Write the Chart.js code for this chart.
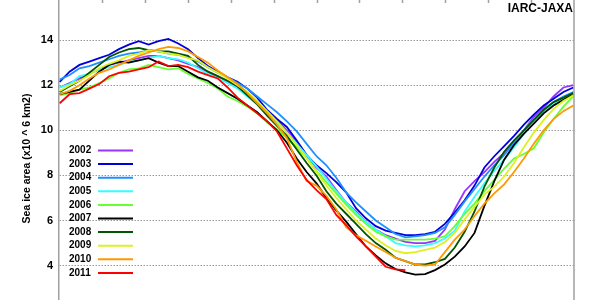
<!DOCTYPE html>
<html>
<head>
<meta charset="utf-8">
<script src="https://cdn.jsdelivr.net/npm/chart.js@4.4.0/dist/chart.umd.min.js"></script>
<style>
  html, body { margin: 0; padding: 0; background: #fff; overflow: hidden; }
  #wrap { position: absolute; left: 0; top: -20px; width: 600px; height: 362px; }
</style>
</head>
<body>
<div id="wrap"><canvas id="chart" width="600" height="362"></canvas></div>
<script>
// day of year for each sample (weekly)
const days = [1,8,15,22,29,36,43,50,57,64,71,78,85,92,99,106,113,120,127,134,141,148,155,162,169,176,183,190,197,204,211,218,225,232,239,246,253,260,267,274,281,288,295,302,309,316,323,330,337,344,351,358,365];

// sea ice area, million km2
const ice2002 = [11.9,12.1,12.3,12.5,12.7,12.9,13.0,13.1,13.2,13.3,13.3,13.2,13.1,12.95,12.8,12.6,12.4,12.15,11.9,11.6,11.2,10.8,10.45,10.0,9.5,8.9,8.35,7.95,7.35,6.8,6.4,5.95,5.6,5.35,5.2,5.05,5.0,5.0,5.1,5.6,6.5,7.3,7.75,8.15,8.6,9.0,9.5,10.0,10.6,11.0,11.5,11.9,12.0];
const ice2003 = [12.15,12.6,12.9,13.05,13.2,13.35,13.6,13.8,13.95,13.8,13.95,14.05,13.85,13.6,13.2,12.85,12.6,12.35,12.15,11.85,11.45,10.9,10.5,10.15,9.55,8.9,8.45,8.1,7.7,7.25,6.55,6.1,5.75,5.55,5.45,5.35,5.35,5.4,5.5,5.85,6.35,6.9,7.55,8.35,8.85,9.3,9.75,10.25,10.7,11.1,11.4,11.7,11.9];
const ice2004 = [12.25,12.45,12.75,12.85,13.0,13.15,13.3,13.4,13.45,13.55,13.5,13.4,13.35,13.25,13.05,12.8,12.55,12.35,12.1,11.85,11.5,11.15,10.8,10.4,9.95,9.4,8.85,8.45,7.9,7.25,6.8,6.4,6.0,5.7,5.4,5.25,5.3,5.35,5.45,5.7,6.25,6.85,7.4,7.95,8.45,8.9,9.45,10.0,10.5,10.9,11.25,11.5,11.7];
const ice2005 = [11.9,12.05,12.4,12.5,12.7,12.8,12.9,13.05,13.1,13.2,13.3,13.2,13.15,13.0,12.75,12.5,12.3,12.1,11.85,11.5,11.15,10.7,10.35,9.9,9.4,8.9,8.4,7.85,7.3,6.8,6.35,5.95,5.6,5.3,5.0,4.9,4.85,4.9,5.0,5.2,5.55,6.4,7.05,7.65,8.2,8.7,9.25,9.85,10.35,10.8,11.15,11.45,11.6];
const ice2006 = [11.55,11.65,11.8,11.9,12.1,12.3,12.55,12.7,12.75,12.9,12.8,12.7,12.75,12.5,12.3,12.1,11.85,11.5,11.3,11.05,10.75,10.35,10.05,9.65,9.25,8.75,8.2,7.7,7.2,6.7,6.25,5.85,5.5,5.3,5.15,5.15,5.15,5.15,5.2,5.3,5.75,6.3,6.75,7.3,7.8,8.3,8.75,8.95,9.2,9.9,10.5,11.05,11.5];
const ice2007 = [11.6,11.7,11.8,12.2,12.6,12.9,13.05,13.0,13.1,13.2,13.0,12.85,12.85,12.6,12.35,12.2,11.9,11.65,11.4,11.1,10.8,10.4,10.0,9.45,8.75,8.15,7.65,7.0,6.45,5.95,5.4,4.85,4.45,4.1,3.85,3.7,3.6,3.62,3.8,4.05,4.4,4.85,5.45,6.65,7.75,8.7,9.35,9.85,10.3,10.75,11.1,11.35,11.6];
const ice2008 = [11.7,11.95,12.2,12.55,12.9,13.25,13.45,13.6,13.65,13.55,13.5,13.5,13.4,13.3,12.9,12.6,12.4,12.2,11.95,11.55,11.15,10.65,10.2,9.75,9.15,8.55,8.0,7.3,6.75,6.3,5.85,5.4,5.0,4.7,4.35,4.2,4.05,4.05,4.15,4.3,4.8,5.5,6.4,7.5,8.35,9.05,9.55,10.0,10.45,10.9,11.25,11.45,11.65];
const ice2009 = [11.75,12.0,12.2,12.45,12.75,12.95,13.1,13.3,13.4,13.55,13.5,13.4,13.35,13.2,13.1,12.8,12.55,12.3,12.0,11.7,11.3,10.85,10.4,9.9,9.35,8.75,8.15,7.55,7.0,6.5,6.0,5.6,5.2,4.9,4.65,4.55,4.6,4.7,4.8,5.05,5.45,6.05,6.6,7.15,7.5,7.95,8.55,9.25,9.9,10.45,10.95,11.3,11.55];
const ice2010 = [11.6,11.75,12.0,12.3,12.55,12.7,12.9,13.1,13.3,13.45,13.6,13.7,13.65,13.5,13.25,13.0,12.65,12.35,12.05,11.65,11.2,10.75,10.25,9.65,8.6,7.75,7.55,7.1,6.5,5.7,5.35,5.1,4.85,4.6,4.35,4.2,4.05,4.0,4.05,4.6,5.15,5.6,6.2,6.75,7.2,7.6,8.15,8.75,9.4,10.0,10.5,10.85,11.1];
const ice2011 = [11.2,11.6,11.65,11.85,12.05,12.4,12.55,12.6,12.7,12.8,13.05,12.85,12.9,12.8,12.6,12.45,12.3,11.9,11.45,11.1,10.75,10.4,9.95,9.2,8.45,7.8,7.35,6.95,6.25,5.8,5.3,4.85,4.4,3.95,3.83,3.8];

const years = ['2002','2003','2004','2005','2006','2007','2008','2009','2010','2011'];
const series = [ice2002, ice2003, ice2004, ice2005, ice2006, ice2007, ice2008, ice2009, ice2010, ice2011];
const colors = ['#9933ff','#0000dd','#1e90ff','#33ffff','#66ff33','#000000','#005500','#ddf020','#ff9900','#ff0000'];

// month boundaries (day of year) for the small tick marks on top
const monthTicks = [30.9, 61.3, 91.75, 122.2, 152.6, 183.0, 213.4, 243.8, 274.25, 304.7, 335.1];
const yTicks = [4, 6, 8, 10, 12, 14, 16];

const FONT = '"Liberation Sans", Arial, Helvetica, sans-serif';

// frame, month ticks, source text and the inset legend
const extras = {
  id: 'extras',
  afterDraw(chart) {
    const { ctx, chartArea: a, scales: { x } } = chart;
    ctx.save();
    ctx.strokeStyle = '#a0a0a0';
    ctx.lineWidth = 1.5;
    ctx.beginPath();
    ctx.moveTo(a.right, a.top); ctx.lineTo(a.right, a.bottom);
    ctx.moveTo(a.left, a.top); ctx.lineTo(a.right, a.top);
    monthTicks.forEach(d => {
      const px = Math.round(x.getPixelForValue(d)) + 0.5;
      ctx.moveTo(px, a.top); ctx.lineTo(px, a.top + 8);
    });
    ctx.stroke();

    ctx.fillStyle = '#000';
    ctx.font = 'bold 12px ' + FONT;
    ctx.textAlign = 'right';
    ctx.textBaseline = 'alphabetic';
    ctx.fillText('IARC-JAXA', a.right - 1, a.top + 17);

    ctx.font = 'bold 10px ' + FONT;
    ctx.textAlign = 'left';
    ctx.textBaseline = 'middle';
    chart.data.datasets.forEach((ds, i) => {
      const y = a.top + 155.5 + i * 13.6;
      ctx.fillStyle = '#000';
      ctx.fillText(ds.label, a.left + 10, y);
      ctx.strokeStyle = ds.borderColor;
      ctx.lineWidth = 2;
      ctx.beginPath();
      ctx.moveTo(a.left + 39, y); ctx.lineTo(a.left + 74, y);
      ctx.stroke();
    });
    ctx.restore();
  }
};

new Chart(document.getElementById('chart'), {
  type: 'line',
  data: {
    datasets: series.map((vals, i) => ({
      label: years[i],
      data: vals.map((v, j) => ({ x: days[j], y: v })),
      borderColor: colors[i],
      borderWidth: 1.8,
      pointRadius: 0,
      tension: 0,
      fill: false,
      order: years.length - i
    }))
  },
  options: {
    responsive: false,
    animation: false,
    events: [],
    layout: { padding: { top: 15, right: 26, bottom: 20, left: 0 } },
    plugins: { legend: { display: false }, tooltip: { enabled: false } },
    scales: {
      x: { type: 'linear', min: 0.5, max: 365.5, display: false },
      y: {
        min: 1.5, max: 16,
        afterFit(scale) { scale.width = 59; },
        afterBuildTicks(scale) { scale.ticks = yTicks.map(v => ({ value: v })); },
        border: { display: true, color: '#a0a0a0', width: 1.5, dash: [1.5, 1.5] },
        grid: { color: '#9a9a9a', lineWidth: 1, drawTicks: false },
        ticks: { color: '#000', padding: 6, font: { family: FONT, size: 11, weight: 'bold' } },
        title: {
          display: true,
          text: 'Sea ice area (x10 ^ 6 km2)',
          color: '#000',
          font: { family: FONT, size: 10.5, weight: 'bold' },
          padding: { top: 21, bottom: 0 }
        }
      }
    }
  },
  plugins: [extras]
});
</script>
</body>
</html>
